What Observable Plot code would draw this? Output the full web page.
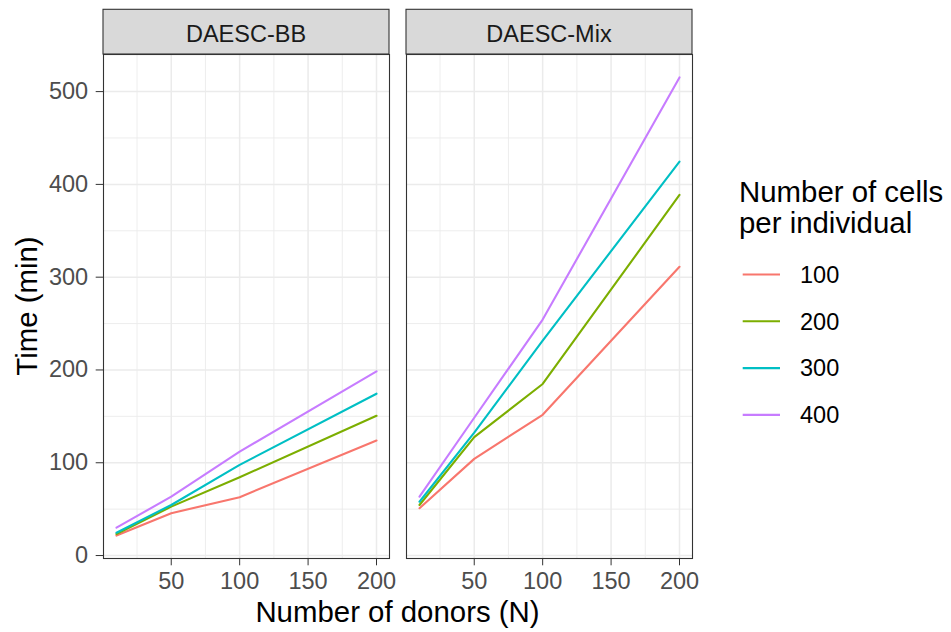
<!DOCTYPE html>
<html>
<head>
<meta charset="utf-8">
<script src="https://cdn.jsdelivr.net/npm/d3@7"></script>
<script src="https://cdn.jsdelivr.net/npm/@observablehq/plot@0.6"></script>
<style>
  html, body { margin: 0; padding: 0; background: #ffffff; }
  #chart { position: relative; width: 951px; height: 632px; overflow: hidden; }
  #chart svg { position: absolute; left: 0; top: 0; }
</style>
</head>
<body>
<div id="chart"></div>
<script>
// ---- data ----
const methods = ["DAESC-BB", "DAESC-Mix"];
const donors = [10, 50, 100, 200];
const cellLevels = ["100", "200", "300", "400"];
const cellColors = ["#F8766D", "#7CAE00", "#00BFC4", "#C77CFF"];

const bb_100 = [21.5, 45.6, 62.9, 124.0];
const bb_200 = [23.2, 52.7, 84.4, 150.6];
const bb_300 = [24.6, 54.5, 97.7, 174.4];
const bb_400 = [30.0, 63.5, 112.0, 198.5];

const mix_100 = [51.0, 104.2, 151.7, 311.2];
const mix_200 = [54.5, 127.6, 184.9, 388.6];
const mix_300 = [58.0, 132.5, 231.6, 424.6];
const mix_400 = [63.5, 148.5, 254.3, 515.3];

const xMajor = [50, 100, 150, 200];
const xMinor = [25, 75, 125, 175];
const yMajor = [0, 100, 200, 300, 400, 500];
const yMinor = [50, 150, 250, 350, 450];

const xTitle = "Number of donors (N)";
const yTitle = "Time (min)";
const legendTitle = ["Number of cells", "per individual"];

// ---- build the table ----
const series = {
  "DAESC-BB": [bb_100, bb_200, bb_300, bb_400],
  "DAESC-Mix": [mix_100, mix_200, mix_300, mix_400]
};
const data = [];
for (const m of methods) {
  series[m].forEach((vals, i) => {
    vals.forEach((v, j) => data.push({method: m, cells: cellLevels[i], donors: donors[j], time: v}));
  });
}

// ggplot-like 5% expansion
function expand([a, b]) { const p = (b - a) * 0.05; return [a - p, b + p]; }
const xDomain = expand(d3.extent(donors));
const yDomain = expand(d3.extent(data, d => d.time));

const W = 951, H = 632;
const mL = 103, mR = 258, mT = 54, mB = 74;
const FONT = "'Liberation Sans', Arial, Helvetica, sans-serif";

const plot = Plot.plot({
  width: W,
  height: H,
  marginLeft: mL,
  marginRight: mR,
  marginTop: mT,
  marginBottom: mB,
  style: {fontFamily: FONT, fontSize: "23.5px", color: "#4D4D4D", background: "transparent", overflow: "visible"},
  fx: {domain: methods, paddingInner: 0.055, paddingOuter: 0, axis: null, label: null},
  x: {domain: xDomain, ticks: xMajor, tickSize: 7.3, tickPadding: 7, label: null},
  y: {domain: yDomain, ticks: yMajor, tickSize: 7.3, tickPadding: 8, label: null},
  color: {domain: cellLevels, range: cellColors},
  marks: [
    Plot.ruleX(xMinor, {stroke: "#EBEBEB", strokeWidth: 0.9}),
    Plot.ruleY(yMinor, {stroke: "#EBEBEB", strokeWidth: 0.9}),
    Plot.ruleX(xMajor, {stroke: "#EBEBEB", strokeWidth: 1.5}),
    Plot.ruleY(yMajor, {stroke: "#EBEBEB", strokeWidth: 1.5}),
    Plot.line(data, {fx: "method", x: "donors", y: "time", z: "cells", stroke: "cells", strokeWidth: 2.1}),
    Plot.frame({stroke: "#333333", strokeWidth: 1.1})
  ]
});

const chart = document.getElementById("chart");
chart.appendChild(plot);

// darken the tick marks a little (ggplot grey20 ticks, grey30 labels)
d3.select(plot).selectAll("[aria-label$='tick'] path, [aria-label$='axis'] .tick line")
  .attr("stroke", "#333333");

// facet geometry from Plot's fx scale
const fxs = plot.scale("fx");
const band = d3.scaleBand()
  .domain(fxs.domain)
  .range(fxs.range)
  .paddingInner(fxs.paddingInner ?? 0.055)
  .paddingOuter(fxs.paddingOuter ?? 0)
  .align(fxs.align ?? 0.5)
  .round(!!fxs.round);

// ---- overlay: strips, axis titles, legend ----
const svg = d3.select(chart).append("svg")
  .attr("width", W).attr("height", H)
  .style("pointer-events", "none")
  .style("font-family", FONT);

const stripTop = 9.3;
for (const m of methods) {
  const x0 = band(m), bw = band.bandwidth();
  svg.append("rect")
    .attr("x", x0).attr("y", stripTop)
    .attr("width", bw).attr("height", mT - stripTop)
    .attr("fill", "#D9D9D9").attr("stroke", "#333333").attr("stroke-width", 1.1);
  svg.append("text")
    .attr("x", x0 + bw / 2).attr("y", 41.5)
    .attr("text-anchor", "middle")
    .attr("font-size", 23.5).attr("fill", "#1A1A1A")
    .text(m);
}

// axis titles
const panelLeft = band(methods[0]);
const panelRight = band(methods[methods.length - 1]) + band.bandwidth();
svg.append("text")
  .attr("x", (panelLeft + panelRight) / 2).attr("y", 622)
  .attr("text-anchor", "middle").attr("font-size", 29.4).attr("fill", "#000")
  .text(xTitle);
svg.append("text")
  .attr("transform", `translate(37,${(mT + (H - mB)) / 2}) rotate(-90)`)
  .attr("text-anchor", "middle").attr("font-size", 29.4).attr("fill", "#000")
  .text(yTitle);

// legend
const lgX = 739;
legendTitle.forEach((t, i) => {
  svg.append("text")
    .attr("x", lgX).attr("y", 201.7 + i * 31)
    .attr("font-size", 29.4).attr("fill", "#000")
    .text(t);
});
const itemY0 = 274.5, itemStep = 46.8;
cellLevels.forEach((lv, i) => {
  const y = itemY0 + i * itemStep;
  svg.append("line")
    .attr("x1", 742.7).attr("x2", 780)
    .attr("y1", y).attr("y2", y)
    .attr("stroke", cellColors[i]).attr("stroke-width", 2.1);
  svg.append("text")
    .attr("x", 800).attr("y", y).attr("dy", "0.35em")
    .attr("font-size", 23.5).attr("fill", "#000")
    .text(lv);
});
</script>
</body>
</html>
